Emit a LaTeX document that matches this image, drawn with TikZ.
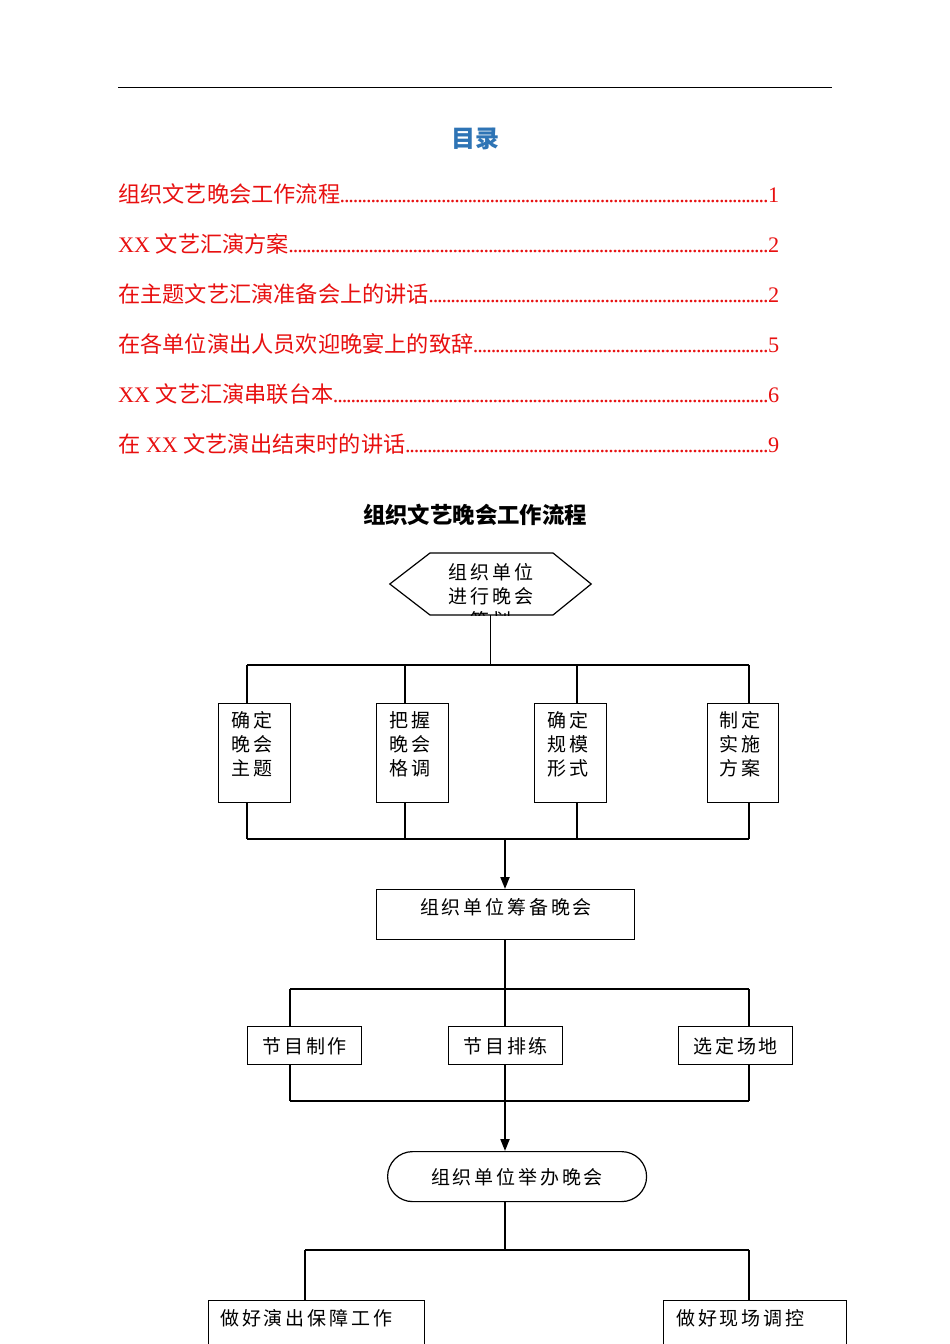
\documentclass[tikz,border=0pt]{standalone}
\usepackage{fontspec}
\setmainfont{Liberation Serif}
\newfontfamily\cjk{Noto Sans CJK SC}
\newfontfamily\cjkc[LetterSpace=15]{Noto Sans CJK SC}
\usetikzlibrary{arrows.meta}
\definecolor{tocred}{RGB}{232,16,16}
\definecolor{tocblue}{RGB}{46,116,181}
\newcommand\tocentry[2]{\makebox[661pt][l]{#1\xleaders\hbox to 4.4pt{\hss.\hss}\hfill #2}}
\tikzset{
  tocline/.style={anchor=west, inner sep=0, text=tocred, font=\fontsize{22.2}{26}\selectfont},
  chartline/.style={line width=1.2pt, draw=black},
  boxnode/.style={draw, line width=1.2pt, inner sep=0, anchor=north west},
  chtext/.style={inner sep=0, font=\fontsize{19}{24}\selectfont\cjkc},
  flowarrow/.style={line width=2pt, -{Triangle[length=12pt,width=9pt]}}
}
\begin{document}
\begin{tikzpicture}[x=1pt,y=-1pt]
\clip (0,0) rectangle (950,1344);
\fill[white] (0,0) rectangle (950,1344);
% top rule
\coordinate (ruleL) at (118,87);
\coordinate (ruleR) at (832,87);
\draw[line width=1pt] (ruleL) -- (ruleR);
% TOC
\node[text=tocblue, font=\fontsize{24}{28}\selectfont\cjk\bfseries] (toctitle) at (475,139) {目录};
\node[tocline] (t1) at (118,194) {\tocentry{{\cjk 组织文艺晚会工作流程}}{1}};
\node[tocline] (t2) at (118,244) {\tocentry{XX {\cjk 文艺汇演方案}}{2}};
\node[tocline] (t3) at (118,294) {\tocentry{{\cjk 在主题文艺汇演准备会上的讲话}}{2}};
\node[tocline] (t4) at (118,344) {\tocentry{{\cjk 在各单位演出人员欢迎晚宴上的致辞}}{5}};
\node[tocline] (t5) at (118,394) {\tocentry{XX {\cjk 文艺汇演串联台本}}{6}};
\node[tocline] (t6) at (118,444) {\tocentry{{\cjk 在} XX {\cjk 文艺演出结束时的讲话}}{9}};
% heading
\node[font=\fontsize{22.4}{26}\selectfont\cjk\bfseries] (heading) at (475,515) {组织文艺晚会工作流程};
% hexagon
\node[minimum width=201pt, minimum height=62pt, inner sep=0] (hex) at (490.5,584) {};
\draw[chartline] (hex.west) -- (430,553) -- (553,553) -- (hex.east) -- (553,615) -- (430,615) -- cycle;
\begin{scope}
\clip (hex.west) -- (430,553) -- (553,553) -- (hex.east) -- (553,615) -- (430,615) -- cycle;
\node[chtext, align=center] (hextext) at (491,596) {组织单位\\进行晚会\\策划};
\end{scope}
% first bus
\coordinate (bus1L) at (247,665);
\coordinate (bus1R) at (749,665);
\coordinate (bus2L) at (247,839);
\coordinate (bus2R) at (749,839);
\draw[chartline] (hex.south) -- (hex.south |- bus1L);
\draw[chartline] (bus1L) -- (bus1R);
\draw[chartline] (bus2L) -- (bus2R);
% four boxes
\node[boxnode, minimum width=72pt, minimum height=99pt] (bA) at (218,703) {};
\node[boxnode, minimum width=72pt, minimum height=99pt] (bB) at (376,703) {};
\node[boxnode, minimum width=72pt, minimum height=99pt] (bC) at (534,703) {};
\node[boxnode, minimum width=71pt, minimum height=99pt] (bD) at (707,703) {};
\node[chtext, align=left, anchor=north west] at (231,711) {确定\\晚会\\主题};
\node[chtext, align=left, anchor=north west] at (389,711) {把握\\晚会\\格调};
\node[chtext, align=left, anchor=north west] at (547,711) {确定\\规模\\形式};
\node[chtext, align=left, anchor=north west] at (719,711) {制定\\实施\\方案};
\coordinate (vA) at (247,703);
\coordinate (vB) at (405,703);
\coordinate (vC) at (577,703);
\coordinate (vD) at (749,703);
\foreach \v in {vA,vB,vC,vD}{
  \draw[chartline] (\v |- bus1L) -- (\v);
  \draw[chartline] (\v |- bA.south) -- (\v |- bus2L);
}
% prep box
\node[boxnode, minimum width=258pt, minimum height=50pt] (prep) at (376,889) {};
\node[chtext] (preptext) at (506,907) {组织单位筹备晚会};
\coordinate (ax) at (505,889);
\draw[flowarrow] (ax |- bus2L) -- (ax);
% second bus
\coordinate (bus3L) at (290,989);
\coordinate (bus3R) at (749,989);
\coordinate (bus4L) at (290,1101);
\coordinate (bus4R) at (749,1101);
\draw[chartline] (ax |- prep.south) -- (ax |- bus3L);
\draw[chartline] (bus3L) -- (bus3R);
\draw[chartline] (bus4L) -- (bus4R);
\node[boxnode, minimum width=114pt, minimum height=38pt] (p1) at (247,1026) {};
\node[boxnode, minimum width=114pt, minimum height=38pt] (p2) at (448,1026) {};
\node[boxnode, minimum width=114pt, minimum height=38pt] (p3) at (678,1026) {};
\node[chtext] at ([yshift=-1pt]p1.center) {节目制作};
\node[chtext] at ([yshift=-1pt]p2.center) {节目排练};
\node[chtext] at ([yshift=-1pt]p3.center) {选定场地};
\coordinate (w1) at (290,1026);
\coordinate (w2) at (505,1026);
\coordinate (w3) at (749,1026);
\foreach \w in {w1,w2,w3}{
  \draw[chartline] (\w |- bus3L) -- (\w);
  \draw[chartline] (\w |- p1.south) -- (\w |- bus4L);
}
% hold
\node[draw, line width=1.2pt, rounded corners=25pt, minimum width=259pt, minimum height=50pt, inner sep=0, anchor=north west] (hold) at (387,1151) {};
\node[chtext] (holdtext) at (517,1177) {组织单位举办晚会};
\draw[flowarrow] (ax |- bus4L) -- (ax |- hold.north);
% third bus
\coordinate (bus5L) at (305,1250);
\coordinate (bus5R) at (749,1250);
\draw[chartline] (ax |- hold.south) -- (ax |- bus5L);
\draw[chartline] (bus5L) -- (bus5R);
\node[boxnode, minimum width=216pt, minimum height=70pt] (q1) at (208,1300) {};
\node[boxnode, minimum width=183pt, minimum height=70pt] (q2) at (663,1300) {};
\node[chtext, anchor=west] at (220,1318) {做好演出保障工作};
\node[chtext, anchor=west] at (676,1318) {做好现场调控};
\draw[chartline] (bus5L) -- (bus5L |- q1.north);
\draw[chartline] (bus5R) -- (bus5R |- q2.north);
\end{tikzpicture}
\end{document}
